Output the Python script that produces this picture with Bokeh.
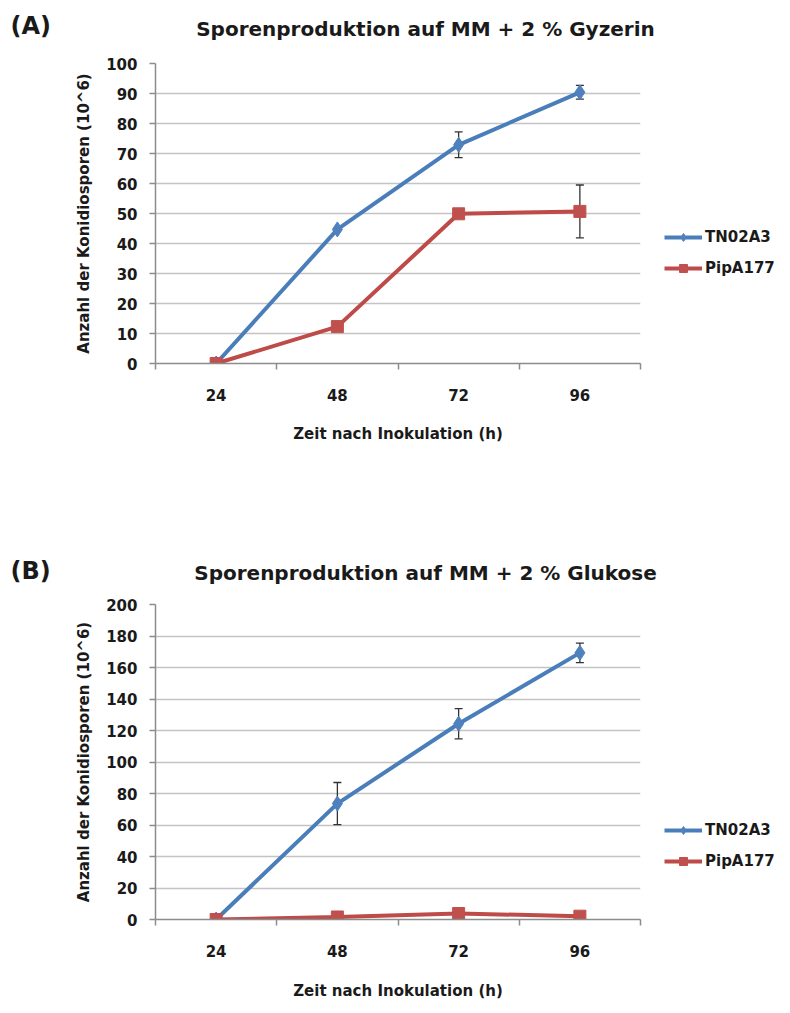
from bokeh.plotting import figure
from bokeh.models import (Range1d, ColumnDataSource, Whisker, Legend,
                          LegendItem, Label, LinearAxis, FixedTicker,
                          SingleIntervalTicker, TeeHead, CustomJSTickFormatter)
from bokeh.layouts import column, row
from bokeh.embed import file_html
from bokeh.resources import INLINE

# ---------------- data ----------------
hours = [24, 48, 72, 96]

a_title = "Sporenproduktion auf MM + 2 % Gyzerin"
a_tn = [0, 44.7, 72.9, 90.4]
a_tn_err = [0, 0, 4.3, 2.3]
a_pip = [0, 12.3, 49.9, 50.7]
a_pip_err = [0, 0, 0, 8.8]

b_title = "Sporenproduktion auf MM + 2 % Glukose"
b_tn = [0, 73.6, 124.3, 169.3]
b_tn_err = [0, 13.4, 9.6, 6.2]
b_pip = [0, 1.6, 3.8, 2.1]
b_pip_err = [0, 0, 0, 0]

series_names = ["TN02A3", "PipA177"]
x_label = "Zeit nach Inokulation (h)"
y_label = "Anzahl der Konidiosporen (10^6)"

FONT = "DejaVu Sans"
BLUE_LINE, BLUE_FILL = "#4A7EBB", "#4F81BD"
RED_LINE, RED_FILL = "#BE4B48", "#C0504D"
GRID = "#C4C4C4"
AXIS = "#8C8C8C"
TXT = "#1A1A1A"
W = 782

step = hours[1] - hours[0]
x_lo, x_hi = hours[0] - step / 2, hours[-1] + step / 2
boundaries = [h - step / 2 for h in hours] + [x_hi]


def header(tag, title, h, tag_y, title_y):
    p = figure(width=W, height=h, x_range=Range1d(0, 1), y_range=Range1d(0, 1),
               min_border=0, x_axis_location=None, y_axis_location=None,
               output_backend="svg", toolbar_location=None)
    p.outline_line_color = None
    p.grid.grid_line_color = None
    p.add_layout(Label(x=10, y=h - tag_y, x_units="screen", y_units="screen",
                       text=tag, text_font=FONT, text_font_style="bold",
                       text_font_size="24px", text_color=TXT,
                       text_align="left", text_baseline="middle"))
    p.add_layout(Label(x=425, y=h - title_y, x_units="screen", y_units="screen",
                       text=title, text_font=FONT, text_font_style="bold",
                       text_font_size="20px", text_color=TXT,
                       text_align="center", text_baseline="middle"))
    return p


def panel(tn, tn_err, pip, pip_err, ymax, ystep,
          fw, fh, bl, bt, bb, ylab_standoff, xlab_standoff, legend_y):
    p = figure(x_range=Range1d(x_lo, x_hi), y_range=Range1d(0, ymax),
               frame_width=fw, frame_height=fh,
               min_border_left=bl, min_border_right=W - bl - fw,
               min_border_top=bt, min_border_bottom=bb,
               x_axis_location=None, y_axis_location=None,
               output_backend="svg", toolbar_location=None)
    p.outline_line_color = None
    p.xgrid.grid_line_color = None
    p.ygrid.grid_line_color = GRID
    p.ygrid.grid_line_width = 1.5
    p.ygrid.ticker = SingleIntervalTicker(interval=ystep, num_minor_ticks=0)

    ya = LinearAxis(ticker=SingleIntervalTicker(interval=ystep, num_minor_ticks=0))
    ya.axis_line_color = AXIS
    ya.axis_line_width = 1.5
    ya.major_tick_line_color = AXIS
    ya.major_tick_line_width = 1.5
    ya.major_tick_out = 6
    ya.major_tick_in = 0
    ya.minor_tick_line_color = None
    ya.major_label_text_font = FONT
    ya.major_label_text_font_style = "bold"
    ya.major_label_text_font_size = "15px"
    ya.major_label_text_color = TXT
    ya.major_label_standoff = 12
    ya.axis_label = y_label
    ya.axis_label_text_font = FONT
    ya.axis_label_text_font_style = "bold"
    ya.axis_label_text_font_size = "15px"
    ya.axis_label_text_color = TXT
    ya.axis_label_standoff = ylab_standoff
    p.add_layout(ya, "left")

    # x axis line with tick marks between the time points
    xt = LinearAxis(ticker=FixedTicker(ticks=boundaries),
                    formatter=CustomJSTickFormatter(code="return ''"))
    xt.axis_line_color = AXIS
    xt.axis_line_width = 1.5
    xt.major_tick_line_color = AXIS
    xt.major_tick_line_width = 1.5
    xt.major_tick_out = 6
    xt.major_tick_in = 0
    xt.minor_tick_line_color = None
    xt.major_label_standoff = 0
    p.add_layout(xt, "below")

    # x labels at the time points
    xa = LinearAxis(ticker=FixedTicker(ticks=hours))
    xa.axis_line_color = None
    xa.major_tick_line_color = None
    xa.minor_tick_line_color = None
    xa.major_tick_out = 0
    xa.major_label_text_font = FONT
    xa.major_label_text_font_style = "bold"
    xa.major_label_text_font_size = "15px"
    xa.major_label_text_color = TXT
    xa.major_label_standoff = 19
    xa.axis_label = x_label
    xa.axis_label_text_font = FONT
    xa.axis_label_text_font_style = "bold"
    xa.axis_label_text_font_size = "15px"
    xa.axis_label_text_color = TXT
    xa.axis_label_standoff = xlab_standoff
    p.add_layout(xa, "below")

    src = ColumnDataSource(dict(h=hours, tn=tn, pip=pip))

    items = []
    for key, err, lc, fc, mk, ms, name in [
        ("tn", tn_err, BLUE_LINE, BLUE_FILL, "diamond", 15, series_names[0]),
        ("pip", pip_err, RED_LINE, RED_FILL, "square", 12, series_names[1]),
    ]:
        vals = src.data[key]
        idx = [i for i, e in enumerate(err) if e > 0]
        if idx:
            wsrc = ColumnDataSource(dict(
                h=[hours[i] for i in idx],
                up=[vals[i] + err[i] for i in idx],
                lo=[vals[i] - err[i] for i in idx]))
            w = Whisker(base="h", upper="up", lower="lo", source=wsrc,
                        line_color="#333333", line_width=1.3,
                        upper_head=TeeHead(size=8, line_color="#333333", line_width=1.3),
                        lower_head=TeeHead(size=8, line_color="#333333", line_width=1.3))
            p.add_layout(w)
        r1 = p.line(x="h", y=key, source=src, line_color=lc, line_width=4)
        r2 = p.scatter(x="h", y=key, source=src, marker=mk, size=ms,
                       fill_color=fc, line_color=fc)
        items.append(LegendItem(label=name, renderers=[r1, r2]))

    leg = Legend(items=items, location=(24, legend_y))
    leg.border_line_color = None
    leg.background_fill_alpha = 0
    leg.padding = 0
    leg.margin = 0
    leg.spacing = 11
    leg.glyph_width = 38
    leg.glyph_height = 20
    leg.label_height = 20
    leg.label_standoff = 3
    leg.label_text_font = FONT
    leg.label_text_font_style = "bold"
    leg.label_text_font_size = "15px"
    leg.label_text_color = TXT
    p.add_layout(leg, "right")
    return p


# panel A: page rows 0-48 header, 48-498 chart
hA = header("(A)", a_title, 48, 25, 28)
pA = panel(a_tn, a_tn_err, a_pip, a_pip_err, 100, 10,
           485, 300, 155, 15, 135, 10, 21, 85)
# panel B: page rows 498-588 header, 588-998 chart
hB = header("(B)", b_title, 90, 570 - 498, 572 - 498)
pB = panel(b_tn, b_tn_err, b_pip, b_pip_err, 200, 20,
           485, 315, 155, 16, 79, 10, 22, 48)

layout = column(row(hA), pA, row(hB), pB, spacing=0)
open("out.html", "w").write(file_html(layout, INLINE))
